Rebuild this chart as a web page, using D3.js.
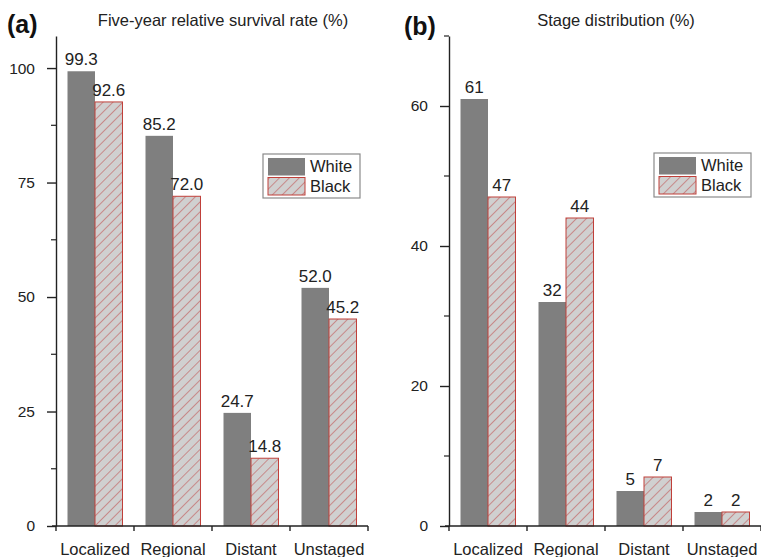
<!DOCTYPE html>
<html>
<head>
<meta charset="utf-8">
<script src="https://cdn.jsdelivr.net/npm/d3@7"></script>
<style>
  html, body { margin: 0; padding: 0; background: #fff; }
  svg { display: block; font-family: "Liberation Sans", Arial, sans-serif; }
</style>
</head>
<body>
<svg id="chart" width="761" height="557"></svg>
<script>
// Stage categories and race groups
const categories = ["Localized", "Regional", "Distant", "Unstaged"];
const series = ["White", "Black"];

// Panel (a): five-year relative survival rate (%)
const survivalWhite = [99.3, 85.2, 24.7, 52.0];
const survivalBlack = [92.6, 72.0, 14.8, 45.2];
const survivalTicks = [0, 25, 50, 75, 100];

// Panel (b): stage distribution (%)
const stageWhite = [61, 32, 5, 2];
const stageBlack = [47, 44, 7, 2];
const stageTicks = [0, 20, 40, 60];

const svg = d3.select("#chart");
const textColor = "#222";
const grayFill = "#7f7f7f";
const hatchBg = "#d0d0d0";
const hatchLine = "#c25a5a";
const redEdge = "#c0403a";

// Diagonal hatch used for the Black series
const defs = svg.append("defs");
const pat = defs.append("pattern")
  .attr("id", "hatch")
  .attr("patternUnits", "userSpaceOnUse")
  .attr("width", 7).attr("height", 7)
  .attr("patternTransform", "rotate(45)");
pat.append("rect").attr("width", 7).attr("height", 7).attr("fill", hatchBg);
pat.append("line").attr("x1", 0).attr("y1", 0).attr("x2", 0).attr("y2", 7)
  .attr("stroke", hatchLine).attr("stroke-width", 1.2);

function panel(opts) {
  const { left, right, top, bottom, max, ticks, minorStep, white, black,
          title, titleX, tag, tagX, tagY, legendX, legendY, fmt } = opts;
  const g = svg.append("g");

  const x = d3.scaleBand().domain(categories).range([left, right]).padding(0);
  const xs = d3.scaleBand().domain(series)
    .range([x.bandwidth() * 0.1475, x.bandwidth() * 0.8525]).padding(0);
  const y = d3.scaleLinear().domain([0, max]).range([bottom, top]);

  const rows = categories.map((c, i) => ({ cat: c, vals: [
    { s: "White", v: white[i] }, { s: "Black", v: black[i] }] }));

  // bars
  const grp = g.selectAll("g.cat").data(rows).join("g")
    .attr("transform", d => `translate(${x(d.cat)},0)`);
  grp.selectAll("rect").data(d => d.vals).join("rect")
    .attr("x", d => xs(d.s))
    .attr("y", d => y(d.v))
    .attr("width", xs.bandwidth())
    .attr("height", d => bottom - y(d.v))
    .attr("fill", d => d.s === "White" ? grayFill : "url(#hatch)")
    .attr("stroke", d => d.s === "White" ? "none" : redEdge)
    .attr("stroke-width", 1);

  // value labels
  grp.selectAll("text").data(d => d.vals).join("text")
    .attr("x", d => xs(d.s) + xs.bandwidth() / 2)
    .attr("y", d => y(d.v) - 6)
    .attr("text-anchor", "middle")
    .attr("font-size", 17)
    .attr("fill", textColor)
    .text(d => fmt(d.v));

  // y axis: major + minor ticks
  const minor = d3.range(0, max + 0.001, minorStep).filter(v => !ticks.includes(v));
  const yAxis = g.append("g").attr("transform", `translate(${left},0)`);
  yAxis.call(d3.axisLeft(y).tickValues(ticks).tickSize(9).tickPadding(12).tickSizeOuter(0))
    .call(s => s.select(".domain").attr("stroke", "#222").attr("stroke-width", 1.4))
    .call(s => s.selectAll(".tick line").attr("stroke", "#222").attr("stroke-width", 1.4))
    .call(s => s.selectAll(".tick text").attr("font-size", 15.5)
      .attr("fill", textColor).attr("font-family", "Liberation Sans, Arial, sans-serif"));
  yAxis.selectAll("line.minor").data(minor).join("line")
    .attr("class", "minor")
    .attr("x1", -5).attr("x2", 0)
    .attr("y1", d => y(d)).attr("y2", d => y(d))
    .attr("stroke", "#222").attr("stroke-width", 1.2);

  // x axis with ticks at category boundaries
  const xAxis = g.append("g");
  xAxis.append("line").attr("x1", left - 4).attr("x2", right)
    .attr("y1", bottom).attr("y2", bottom)
    .attr("stroke", "#222").attr("stroke-width", 1.4);
  const bounds = categories.map(c => x(c)).concat([right]);
  xAxis.selectAll("line.b").data(bounds).join("line").attr("class", "b")
    .attr("x1", d => d).attr("x2", d => d)
    .attr("y1", bottom).attr("y2", bottom + 5)
    .attr("stroke", "#222").attr("stroke-width", 1.4);
  xAxis.selectAll("text").data(categories).join("text")
    .attr("x", d => x(d) + x.bandwidth() / 2)
    .attr("y", bottom + 29)
    .attr("text-anchor", "middle")
    .attr("font-size", 16.5)
    .attr("fill", textColor)
    .text(d => d);

  // titles
  g.append("text").attr("x", titleX).attr("y", 26)
    .attr("text-anchor", "middle").attr("font-size", 16.5)
    .attr("fill", textColor).text(title);
  g.append("text").attr("x", tagX).attr("y", tagY)
    .attr("font-size", 25).attr("font-weight", "bold")
    .attr("fill", "#111").text(tag);

  // legend
  const lg = g.append("g").attr("transform", `translate(${legendX},${legendY})`);
  lg.append("rect").attr("width", 97).attr("height", 44)
    .attr("fill", "#fff").attr("stroke", "#8a8a8a").attr("stroke-width", 1.2);
  series.forEach((s, i) => {
    lg.append("rect").attr("x", 5).attr("y", 4 + i * 19.5)
      .attr("width", 37).attr("height", 17.5)
      .attr("fill", s === "White" ? grayFill : "url(#hatch)")
      .attr("stroke", s === "White" ? "none" : redEdge).attr("stroke-width", 1);
    lg.append("text").attr("x", 47).attr("y", 18 + i * 19.5)
      .attr("font-size", 16.5).attr("fill", textColor).text(s);
  });
}

panel({
  left: 56, right: 368, top: 36, bottom: 526, max: 107,
  ticks: survivalTicks, minorStep: 12.5,
  white: survivalWhite, black: survivalBlack,
  title: "Five-year relative survival rate (%)", titleX: 223,
  tag: "(a)", tagX: 7, tagY: 33, legendX: 263, legendY: 154,
  fmt: d3.format(".1f")
});

panel({
  left: 449, right: 761, top: 36, bottom: 526, max: 70,
  ticks: stageTicks, minorStep: 10,
  white: stageWhite, black: stageBlack,
  title: "Stage distribution (%)", titleX: 616,
  tag: "(b)", tagX: 404, tagY: 35, legendX: 654, legendY: 153,
  fmt: d3.format("d")
});
</script>
</body>
</html>
